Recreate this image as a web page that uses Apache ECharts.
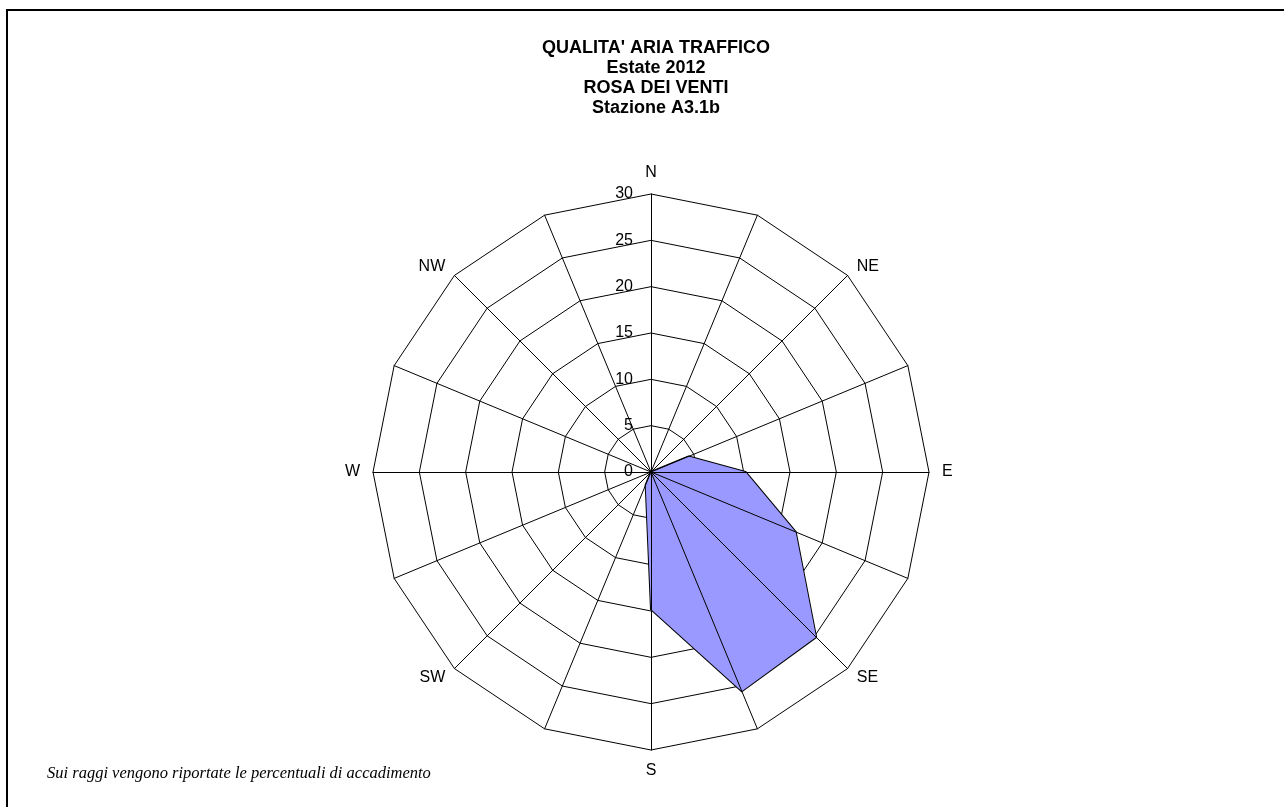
<!DOCTYPE html>
<html>
<head>
<meta charset="utf-8">
<script src="https://cdn.jsdelivr.net/npm/echarts@6/dist/echarts.min.js"></script>
<style>
html,body{margin:0;padding:0;background:#fff;}
#chart{width:1284px;height:807px;}
</style>
</head>
<body>
<div id="chart"></div>
<script>
// Directions in compass (clockwise) order starting from North
const directions = ['N','NNE','NE','ENE','E','ESE','SE','SSE','S','SSW','SW','WSW','W','WNW','NW','NNW'];
const shownNames = ['N','NE','E','SE','S','SW','W','NW'];
const frequencies = [0, 0, 0, 4.4, 10.2, 16.9, 25.2, 25.6, 14.8, 1.5, 0, 0, 0, 0, 0, 0];
const radialMax = 30;
const radialSplits = 6;
const titleLines = ["QUALITA' ARIA TRAFFICO", 'Estate 2012', 'ROSA DEI VENTI', 'Stazione A3.1b'];
const footnote = 'Sui raggi vengono riportate le percentuali di accadimento';

// ECharts radar places indicators counter-clockwise; reorder for compass order
const order = [0].concat(directions.map((d, i) => i).slice(1).reverse());
const indicatorsBase = order.map(i => ({
  name: shownNames.indexOf(directions[i]) >= 0 ? directions[i] : '',
  min: 0, max: radialMax
}));
const seriesValues = order.map(i => frequencies[i]);

const font = '"Liberation Sans", Arial, sans-serif';
const center = [651, 472];
const radius = 278;

const chart = echarts.init(document.getElementById('chart'), null, {renderer: 'canvas'});
chart.setOption({
  backgroundColor: '#ffffff',
  animation: false,
  title: {
    text: titleLines.join('\n'),
    left: 651,
    textAlign: 'center',
    top: 33,
    textStyle: {fontFamily: font, fontSize: 18, fontWeight: 'bold', color: '#000', lineHeight: 20}
  },
  radar: [
    {
      z: 0,
      center: center,
      radius: radius,
      startAngle: 90,
      shape: 'polygon',
      splitNumber: radialSplits,
      indicator: indicatorsBase.map(o => ({name: o.name, min: o.min, max: o.max})),
      axisName: {color: '#000', fontFamily: font, fontSize: 16},
      nameGap: 13,
      axisLine: {show: false},
      axisTick: {show: false},
      axisLabel: {show: false},
      splitLine: {show: true, lineStyle: {color: '#000', width: 1}},
      splitArea: {show: false}
    },
    {
      z: 5,
      center: center,
      radius: radius,
      startAngle: 90,
      shape: 'polygon',
      splitNumber: radialSplits,
      indicator: indicatorsBase.map((o, k) => {
        const r = {name: '', min: o.min, max: o.max};
        if (k === 0) r.axisLabel = {show: true};
        return r;
      }),
      axisName: {show: false},
      axisLine: {show: true, lineStyle: {color: '#000', width: 1}},
      axisTick: {show: false},
      axisLabel: {show: false, color: '#000', fontFamily: font, fontSize: 16, margin: 18},
      splitLine: {show: false},
      splitArea: {show: false}
    }
  ],
  series: [{
    type: 'radar',
    radarIndex: 0,
    z: 2,
    symbol: 'none',
    lineStyle: {color: '#000', width: 2},
    areaStyle: {color: '#9999FF', opacity: 1},
    data: [{value: seriesValues, name: 'Frequenza'}]
  }],
  graphic: [
    {
      type: 'polyline',
      shape: {points: [[7, 900], [7, 10], [1400, 10]]},
      style: {stroke: '#000', lineWidth: 2, fill: null}
    },
    {
      type: 'text',
      x: 47, y: 774,
      style: {text: footnote, font: 'italic 16.5px "Liberation Serif", "Times New Roman", serif', fill: '#000', textVerticalAlign: 'middle'}
    }
  ]
});
</script>
</body>
</html>
